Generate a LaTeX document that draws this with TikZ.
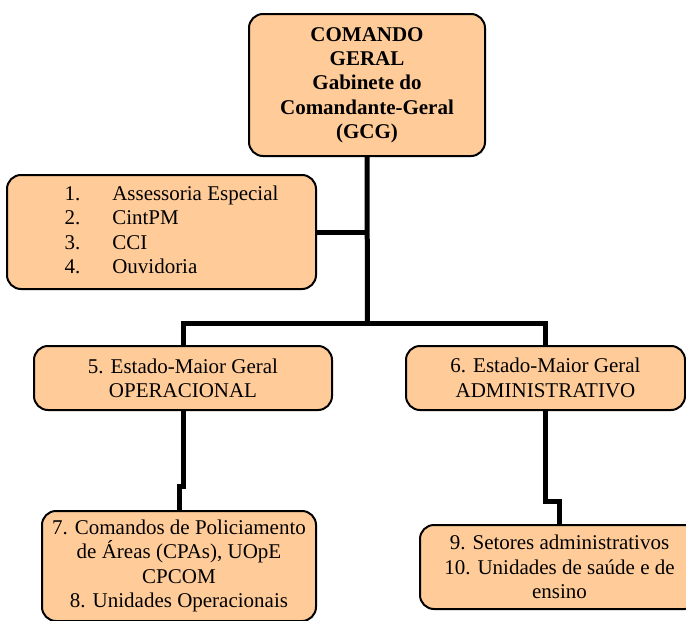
\documentclass[tikz,border=0pt]{standalone}
\usepackage{fontspec}
\setmainfont{Liberation Serif}
\definecolor{peach}{HTML}{FFCC99}
\begin{document}
\begin{tikzpicture} [x=1pt, y=-1pt, line width = 5pt, box/.style={draw, line width=2pt, rounded corners=14pt, fill=peach, align=center, inner sep=0pt, font=\fontsize{21}{24.3}\selectfont}]

\useasboundingbox (0,0) rectangle (686,621);

\node at (367,85) [box, minimum width=236, minimum height=142] (gcg) {\bfseries COMANDO\\\bfseries GERAL\\\bfseries Gabinete do\\\bfseries Comandante-Geral\\\bfseries (GCG)};
\node at (161.5,232) [box, minimum width=309, minimum height=114] (assessorias) {\begin{tabular}{@{\hspace{20pt}}l@{\hspace{32pt}}l@{}}
1. & Assessoria Especial\\
2. & CintPM\\
3. & CCI\\
4. & Ouvidoria
\end{tabular}};
\node at (183,378) [box, minimum width=298, minimum height=64] (emgo) {5. Estado-Maior Geral\\OPERACIONAL};
\node at (545.5,378) [box, minimum width=279, minimum height=64] (emga) {6. Estado-Maior Geral\\ADMINISTRATIVO};
\node at (179,566) [box, minimum width=274, minimum height=110] (cpas) {7. Comandos de Policiamento\\de Áreas (CPAs), UOpE\\CPCOM\\8. Unidades Operacionais};
\node at (559.5,567) [box, minimum width=279, minimum height=84] (setores) {9. Setores administrativos\\10. Unidades de saúde e de\\ensino};

\coordinate (hub) at (367.5,323.5);

\draw (gcg.south) -- (hub);
\draw (assessorias.east) -- (assessorias.east -| hub);
\draw (emgo.north) |- (hub) -| (emga.north);
\draw (emgo.south) -- ++(0,75) -| (cpas.north);
\draw (emga.south) -- ++(0,90) -| (setores.north);

\end{tikzpicture}
\end{document}
